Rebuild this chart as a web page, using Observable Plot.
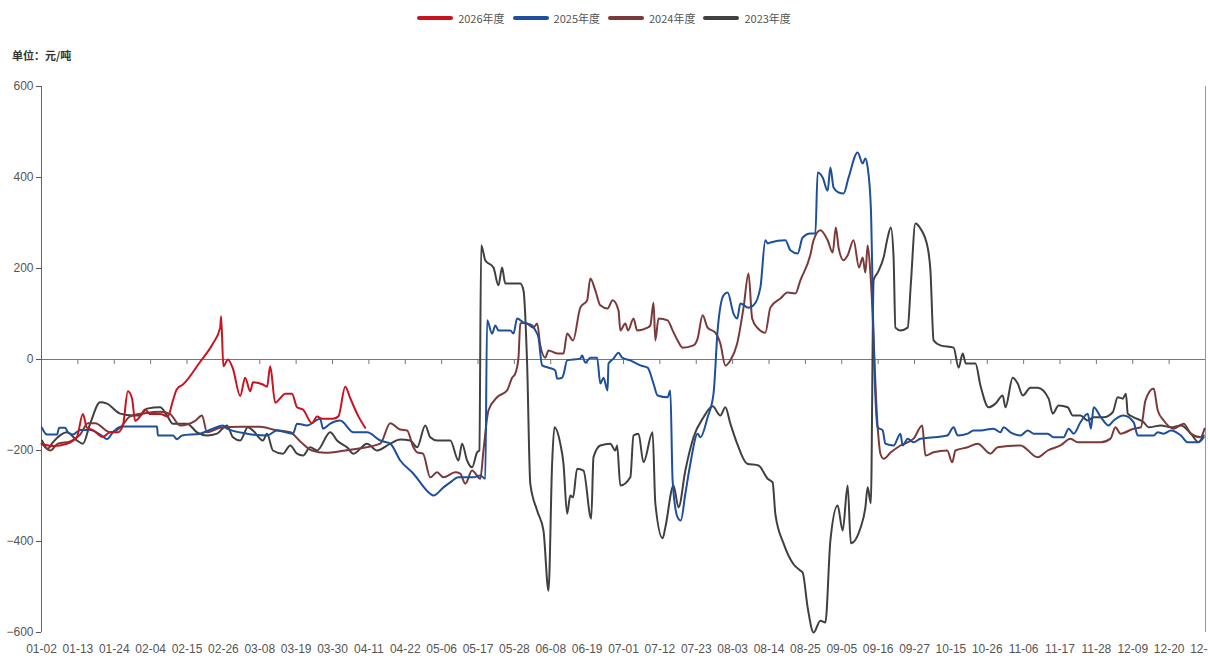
<!DOCTYPE html>
<html><head><meta charset="utf-8">
<script src="https://cdn.jsdelivr.net/npm/d3@7"></script>
<script src="https://cdn.jsdelivr.net/npm/@observablehq/plot@0.6"></script>
<style>
body{margin:0;background:#fff;width:1208px;height:661px;overflow:hidden;position:relative;font-family:"Liberation Sans Narrow","Noto Sans CJK SC",sans-serif;}
#legend{position:absolute;top:10px;left:0;width:1208px;display:flex;justify-content:center;align-items:center;font-size:11px;color:#555;z-index:2;}
.item{display:flex;align-items:center;margin:0 4px;}
.sw{width:36px;height:4px;border-radius:2px;margin-right:5px;}
#unit{position:absolute;top:47px;left:12px;font-size:11px;color:#333;font-family:"Noto Sans CJK SC",sans-serif;font-weight:bold;z-index:2;}
#chart{position:absolute;top:40px;left:0;z-index:1;}
</style></head><body>
<div id="legend"></div>
<div id="unit">单位：元/吨</div>
<div id="chart"></div>
<script>
const xLabels = ["01-02","01-13","01-24","02-04","02-15","02-26","03-08","03-19","03-30","04-11","04-22","05-06","05-17","05-28","06-08","06-19","07-01","07-12","07-23","08-03","08-14","08-25","09-05","09-16","09-27","10-15","10-26","11-06","11-17","11-28","12-09","12-20","12-31"];
const yTicks = [-600,-400,-200,0,200,400,600];
const seriesNames = ["2026年度","2025年度","2024年度","2023年度"];
const seriesColors = ["#c8141e","#1d4f9c","#7b3a3a","#404040"];

// [trading-day index, value 元/吨]
const s2026 = [[0,-185],[2.5,-190],[5.6,-185],[7.8,-170],[9.1,-120],[10,-150],[11.3,-155],[13.5,-170],[15.1,-160],[16.8,-160],[17.9,-145],[19,-70],[19.9,-85],[20.6,-135],[21.7,-125],[22.8,-110],[23.9,-120],[26.1,-120],[27.8,-125],[28.9,-90],[29.8,-65],[31.1,-55],[34.9,-5],[37.7,35],[39.3,70],[39.5,95],[40,-15],[41,0],[42.1,-20],[43.7,-80],[44.8,-40],[45.9,-70],[46.5,-50],[48.7,-55],[49.6,-60],[50.3,-15],[51.4,-95],[52.5,-85],[53.6,-75],[55.1,-75],[56.2,-105],[57.5,-110],[59.5,-140],[60.6,-125],[61.7,-130],[64.1,-130],[65.3,-125],[66.8,-60],[67.9,-85],[69.7,-125],[71.2,-150]];

const s2025 = [[0.1,-150],[1.2,-165],[3.4,-165],[3.9,-150],[5.2,-150],[5.8,-160],[6.9,-165],[8.5,-155],[10.7,-155],[12.9,-165],[14.4,-175],[15.7,-160],[16.8,-150],[17.7,-147],[25.4,-147],[25.6,-167],[28.9,-167],[29.8,-175],[30.9,-167],[34.9,-163],[37.7,-152],[39.9,-145],[40.8,-152],[45.2,-163],[49.6,-167],[51.8,-156],[55.3,-163],[56.2,-141],[58.4,-145],[61.3,-130],[61.9,-152],[63.5,-141],[65.7,-134],[68.6,-160],[71.6,-160],[74.5,-178],[76.7,-185],[78.9,-222],[81.8,-251],[85.5,-295],[86.2,-299],[88.4,-281],[89.9,-270],[91.7,-259],[95,-259],[96.5,-255],[97.6,-262],[98,86],[99.1,57],[99.8,75],[100.5,64],[103.1,64],[103.8,57],[104.6,90],[106,81],[107.9,75],[108.6,64],[109.3,48],[110.1,-13],[111.5,-18],[113,-24],[113.4,-42],[114.5,-40],[114.8,-33],[115.6,-2],[118.5,2],[118.9,9],[119.6,-7],[120.7,4],[122.2,4],[122.9,-53],[123.6,-40],[124.5,-68],[124.7,-9],[125.8,2],[126.9,15],[127.7,4],[129.5,-2],[131.7,-13],[133.3,-18],[134.6,-53],[135.5,-79],[137.7,-83],[138.3,-68],[138.8,-266],[139.9,-347],[140.6,-354],[141.6,-295],[142.7,-229],[144.3,-163],[144.9,-171],[146.5,-127],[147.8,-75],[148.7,64],[150,141],[150.9,147],[152.2,101],[153,90],[153.7,123],[155.5,114],[156.6,119],[158.1,158],[159.2,262],[159.7,255],[160.3,257],[163.6,262],[164.7,240],[166.3,233],[167.4,268],[169.1,277],[170.2,277],[170.7,411],[171.8,400],[172.9,371],[173.5,422],[174.2,378],[175.3,367],[176.4,365],[177.5,400],[179.5,455],[180.6,431],[181.2,442],[181.7,422],[182.4,334],[183,42],[183.9,-149],[185,-156],[185.6,-185],[187.4,-189],[188.9,-163],[189.4,-189],[190.5,-174],[191.8,-182],[193.3,-174],[196.2,-171],[199.2,-167],[200.6,-149],[201.5,-167],[203.7,-163],[205,-156],[206.5,-156],[209.4,-152],[210.9,-160],[211.6,-149],[213.1,-160],[215.3,-167],[216.9,-156],[218.2,-163],[221.3,-163],[222.6,-171],[224.8,-171],[225.9,-152],[227,-163],[228.5,-138],[230.1,-119],[230.8,-152],[231.4,-105],[233,-127],[234.7,-145],[235.8,-134],[238,-123],[240.2,-138],[241.1,-167],[244.6,-167],[245.5,-160],[246.8,-163],[248.4,-156],[250.6,-167],[252.1,-182],[254.3,-182],[255.6,-167]];

const s2024 = [[0.1,-185],[1.9,-200],[3.6,-185],[6.3,-180],[8.5,-165],[10.2,-140],[11.8,-140],[15.1,-160],[17.3,-150],[19.5,-125],[22.8,-118],[26.1,-115],[28.3,-120],[30.5,-145],[33.8,-135],[35.3,-123],[36.4,-160],[39.3,-150],[43.7,-148],[48.1,-148],[51.4,-155],[54.7,-160],[56.9,-180],[59.5,-200],[62.4,-205],[66.8,-200],[70.1,-195],[74.5,-185],[76.7,-140],[78.9,-154],[80.4,-156],[81.8,-193],[82.6,-204],[83.9,-207],[85.5,-259],[87,-248],[88.4,-259],[91,-248],[92.1,-251],[93.2,-273],[94.7,-244],[96.5,-262],[97.2,-200],[98.3,-112],[100.2,-83],[102.4,-68],[103.5,-40],[104.2,-31],[104.9,4],[105.3,79],[106.4,81],[108.2,70],[109,79],[109.7,31],[110.8,4],[111.5,20],[113.4,13],[114.8,13],[115.6,57],[116.9,42],[118.5,114],[120,130],[120.7,178],[121.8,152],[122.9,119],[124.5,112],[125.6,130],[126.9,108],[127.3,64],[128.4,79],[129,64],[130.2,90],[131,64],[133.3,70],[133.9,75],[134.6,125],[135,42],[135.7,90],[137.7,86],[138.8,64],[139.9,42],[141,26],[143.4,31],[144.3,46],[145.4,97],[146.5,70],[148.2,59],[149.3,35],[150.4,-13],[151.5,-2],[153,35],[154.4,114],[155.5,189],[156.3,90],[157.4,70],[159.2,59],[160.3,114],[162.5,134],[164.1,147],[165.8,145],[166.9,174],[169.1,230],[169.8,262],[171.3,284],[172.9,262],[174,235],[174.7,290],[175.3,246],[176.4,218],[177.3,229],[178.6,262],[179.8,202],[180.6,224],[181.2,191],[181.7,251],[182.4,174],[183.9,-149],[184.5,-207],[185.2,-218],[186.8,-204],[188.9,-189],[191.8,-174],[193.7,-145],[194.4,-211],[196.2,-204],[199.2,-200],[200.3,-226],[201,-200],[203.7,-193],[205.9,-185],[208.7,-207],[210.3,-193],[215.3,-189],[219.1,-215],[221.3,-200],[224.1,-189],[226.3,-174],[227.9,-182],[233,-182],[235.1,-174],[236.2,-149],[237.3,-163],[240.2,-152],[241.8,-149],[242.8,-90],[244.6,-64],[245.5,-112],[246.8,-134],[249,-152],[251.2,-141],[252.8,-163],[254.9,-171],[255.8,-152]];

const s2023 = [[0.1,-178],[1.4,-196],[2.5,-182],[5.6,-160],[7.8,-178],[9.1,-185],[10.7,-141],[12.9,-94],[14.4,-97],[17.3,-119],[20.1,-123],[21.7,-123],[23.2,-108],[26.1,-105],[27.6,-123],[28.9,-141],[32,-141],[34.2,-160],[36.4,-167],[38.6,-163],[40.8,-145],[42.1,-171],[43.7,-178],[45.4,-149],[46.5,-156],[48.7,-178],[49.6,-163],[50.9,-200],[53.1,-207],[54.7,-189],[56.2,-207],[57.5,-211],[59.1,-193],[60.6,-200],[63.5,-160],[65,-178],[67.2,-193],[68.6,-207],[71.6,-185],[73.8,-200],[76.7,-185],[78.9,-176],[81.1,-178],[82.6,-193],[84.4,-145],[85.5,-171],[87,-178],[89.9,-178],[91.7,-222],[92.5,-185],[93.6,-222],[94.7,-237],[95.8,-204],[96.3,-200],[96.7,251],[97.6,218],[99.4,202],[100.5,163],[101.3,202],[102,167],[105.3,167],[106,152],[106.8,-9],[107.5,-273],[109,-332],[110.4,-376],[111.5,-508],[112.3,-229],[112.8,-149],[114.1,-185],[114.8,-229],[115.6,-339],[116.3,-299],[116.9,-303],[117.8,-240],[119.2,-244],[120.9,-350],[121.4,-215],[122.9,-189],[125.1,-185],[126.2,-200],[126.6,-189],[127.3,-277],[129.5,-259],[130.2,-167],[131.3,-163],[132.4,-226],[134.4,-160],[135,-316],[136.6,-393],[137.2,-369],[139,-277],[140.1,-325],[141.6,-244],[143.4,-171],[145.6,-127],[147.6,-103],[149.3,-123],[150.4,-105],[151.5,-141],[153,-185],[155.2,-229],[157.7,-233],[159.7,-262],[160.8,-270],[161.4,-340],[163.2,-404],[165.4,-450],[166.9,-464],[167.4,-468],[168.5,-545],[169.8,-600],[171.3,-574],[172.4,-578],[173.5,-398],[175.1,-321],[176.2,-376],[177.3,-277],[178,-404],[180.1,-371],[181.2,-325],[181.7,-281],[182.4,-316],[183,174],[183.9,191],[185.2,224],[186.1,268],[186.8,290],[187.4,224],[187.8,70],[188.9,64],[190.5,70],[191.2,167],[192.2,299],[193.3,288],[194.9,246],[195.5,196],[196.2,42],[197.7,31],[200.6,26],[201.7,-18],[202.6,13],[203.3,-9],[205.4,-9],[206.5,-57],[208.3,-105],[209.8,-97],[211.4,-79],[212,-105],[213.6,-40],[214.7,-53],[215.8,-79],[217.5,-62],[219.1,-62],[221.5,-86],[222.4,-119],[223.7,-101],[225.7,-105],[226.8,-123],[228.5,-123],[230.1,-134],[231.4,-127],[233.6,-127],[235.6,-116],[236.7,-83],[237.8,-86],[238.5,-75],[238.9,-119],[240.2,-127],[242.4,-138],[243.5,-149],[246.2,-145],[248.4,-149],[250.6,-145],[252.8,-163],[254.5,-182],[255.6,-171]];

const allSeries = [s2026, s2025, s2024, s2023];

// legend
const legend = document.getElementById("legend");
seriesNames.forEach((n, i) => {
  const it = document.createElement("div"); it.className = "item";
  const sw = document.createElement("div"); sw.className = "sw"; sw.style.background = seriesColors[i];
  const tx = document.createElement("span"); tx.textContent = n;
  it.appendChild(sw); it.appendChild(tx); legend.appendChild(it);
});

const nIdx = (xLabels.length - 1) * 8;
const tickIdx = d3.range(0, nIdx + 1, 8);
const lineMarks = [];
for (let i = allSeries.length - 1; i >= 0; i--) {
  lineMarks.push(Plot.line(allSeries[i], {x: d => d[0], y: d => d[1], stroke: seriesColors[i], strokeWidth: 2, curve: "monotone-x"}));
}

const chart = Plot.plot({
  width: 1208, height: 621,
  marginTop: 46, marginBottom: 29, marginLeft: 41, marginRight: 3,
  style: {fontFamily: '"Liberation Sans Narrow", sans-serif', fontSize: "12px", color: "#555", background: "transparent"},
  x: {domain: [0, nIdx], ticks: tickIdx, tickFormat: i => xLabels[i / 8], tickSize: 0, tickPadding: 12, label: null},
  y: {domain: [-600, 600], ticks: yTicks, tickSize: 5, tickPadding: 3, label: null},
  marks: [
    Plot.ruleY([0], {stroke: "#777", strokeWidth: 1}),
    Plot.ruleX(tickIdx.slice(1), {x: d => d, y1: 0, y2: -11, stroke: "#777"}),
    Plot.ruleX([0], {y1: -600, y2: 600, stroke: "#666"}),
    Plot.ruleX([nIdx], {y1: -600, y2: 600, stroke: "#999"}),
    ...lineMarks
  ]
});
document.getElementById("chart").appendChild(chart);
</script>
</body></html>
